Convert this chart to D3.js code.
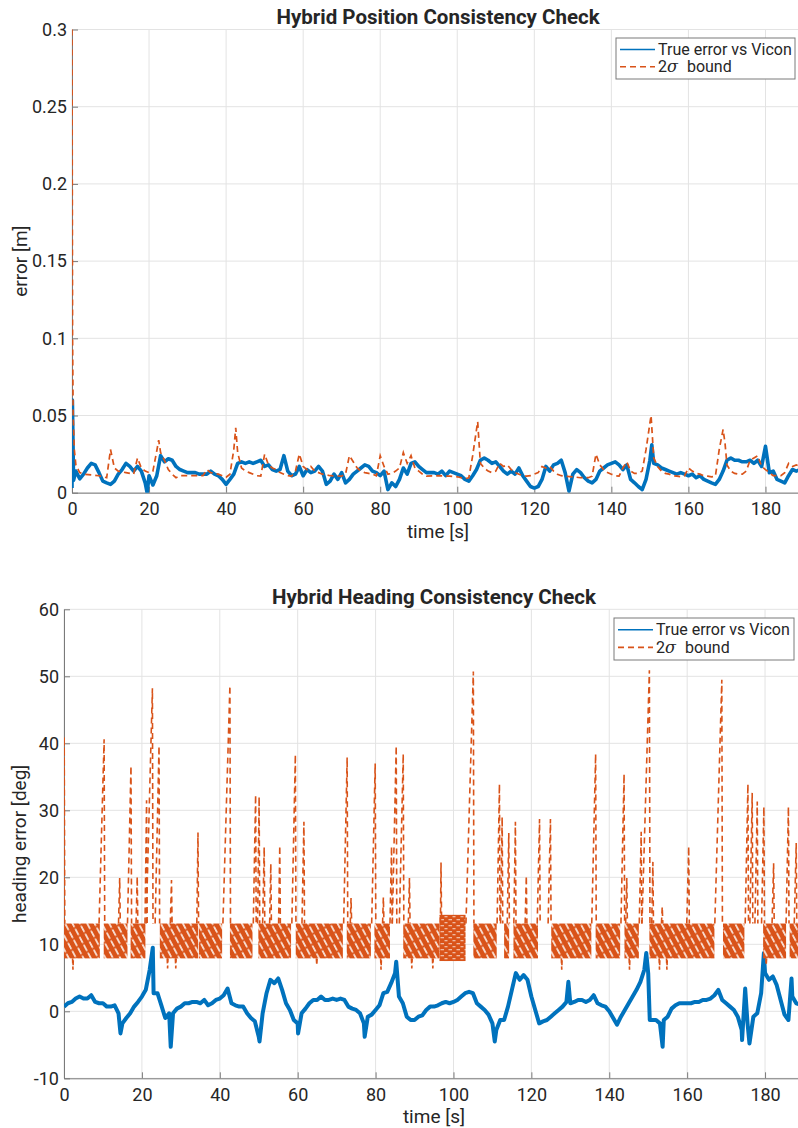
<!DOCTYPE html>
<html><head><meta charset="utf-8">
<script src="https://cdn.jsdelivr.net/npm/d3@7"></script>
<style>
body{margin:0;background:#fff}
text{font-family:Roboto,"Liberation Sans",sans-serif;fill:#262626}
</style>
</head><body><script>
// ---- tick values and labels ----
const timeTicks = [0,20,40,60,80,100,120,140,160,180];
const posTicks = [0,0.05,0.1,0.15,0.2,0.25,0.3];
const posTickLabels = ["0","0.05","0.1","0.15","0.2","0.25","0.3"];
const headTicks = [-10,0,10,20,30,40,50,60];
const headTickLabels = ["-10","0","10","20","30","40","50","60"];
const seriesNames = ["True error vs Vicon","2\u03c3 bound"];

// ---- position error [t (s), error (m)] ----
const posErr = [[0,0.003],[0.1,0.06],[0.4,0.008],[1,0.014],[2,0.009],[3,0.012],[4,0.016],[5,0.019],[6,0.018],[7,0.013],[8,0.0075],[9,0.0064],[10,0.0054],[11,0.0075],[12,0.012],[13,0.015],[14,0.019],[15,0.017],[16,0.014],[17,0.017],[18,0.014],[19,0.0064],[19.5,0.0],[20,0.011],[21,0.005],[22,0.011],[23,0.024],[24,0.020],[25,0.022],[26,0.021],[27,0.017],[28,0.015],[29,0.014],[30,0.013],[31,0.013],[32,0.013],[33,0.012],[34,0.012],[35,0.012],[36,0.014],[37,0.012],[38,0.011],[39,0.0086],[40,0.0054],[41,0.0086],[42,0.012],[43,0.019],[44,0.020],[45,0.019],[46,0.020],[47,0.019],[48,0.020],[49,0.021],[50,0.017],[51,0.018],[52,0.015],[53,0.014],[54,0.015],[55,0.024],[56,0.014],[57,0.011],[58,0.012],[59,0.017],[60,0.011],[61,0.015],[62,0.013],[63,0.014],[64,0.017],[65,0.014],[66,0.0054],[67,0.0075],[68,0.012],[69,0.0086],[70,0.013],[71,0.0064],[72,0.0086],[73,0.012],[74,0.014],[75,0.016],[76,0.018],[77,0.017],[78,0.014],[79,0.013],[80,0.011],[81,0.014],[82,0.002],[83,0.0064],[84,0.004],[85,0.0086],[86,0.016],[87,0.012],[88,0.019],[89,0.020],[90,0.017],[91,0.015],[92,0.013],[93,0.013],[94,0.013],[95,0.012],[96,0.014],[97,0.011],[98,0.014],[99,0.013],[100,0.012],[101,0.011],[102,0.0086],[103,0.0075],[104,0.011],[105,0.015],[106,0.021],[107,0.0225],[108,0.021],[109,0.019],[110,0.020],[111,0.017],[112,0.014],[113,0.012],[114,0.014],[115,0.012],[116,0.016],[117,0.011],[118,0.0075],[119,0.004],[120,0.003],[121,0.004],[122,0.0086],[123,0.017],[124,0.014],[125,0.018],[126,0.019],[127,0.021],[128,0.013],[129,0.001],[130,0.012],[131,0.015],[132,0.013],[133,0.0097],[134,0.0075],[135,0.0064],[136,0.0086],[137,0.014],[138,0.016],[139,0.018],[140,0.019],[141,0.020],[142,0.018],[143,0.015],[144,0.018],[145,0.0086],[146,0.0064],[147,0.004],[148,0.002],[149,0.0086],[150,0.021],[150.5,0.031],[151,0.019],[152,0.018],[153,0.016],[154,0.015],[155,0.014],[156,0.013],[157,0.012],[158,0.013],[159,0.012],[160,0.011],[161,0.012],[162,0.0097],[163,0.011],[164,0.0086],[165,0.0075],[166,0.0064],[167,0.0054],[168,0.0086],[169,0.014],[170,0.021],[171,0.0225],[172,0.021],[173,0.021],[174,0.020],[175,0.020],[176,0.021],[177,0.019],[178,0.021],[179,0.017],[180,0.030],[181,0.013],[182,0.014],[183,0.0086],[184,0.0075],[185,0.0064],[186,0.011],[187,0.015],[188,0.014],[189,0.015],[190,0.014]];

// ---- position 2-sigma bound [t (s), bound (m)] ----
const posBound = [[0,0.30],[0.15,0.10],[0.3,0.05],[0.6,0.028],[1,0.018],[2,0.013],[3,0.012],[5,0.0115],[7,0.011],[9,0.0097],[10,0.028],[11,0.016],[12,0.014],[14,0.013],[16,0.012],[17,0.0225],[18,0.016],[19,0.014],[20,0.013],[21,0.014],[22,0.027],[22.5,0.034],[23,0.026],[24,0.021],[25,0.015],[26,0.012],[27,0.0097],[28,0.011],[34,0.011],[35,0.015],[36,0.013],[38,0.012],[40,0.010],[41,0.012],[42,0.028],[42.5,0.042],[43,0.026],[44,0.016],[45,0.014],[46,0.013],[48,0.011],[49,0.0107],[50,0.025],[51,0.018],[52,0.016],[53,0.015],[54,0.013],[55,0.012],[56,0.011],[57,0.0107],[58,0.014],[59,0.025],[60,0.017],[61,0.015],[62,0.017],[63,0.014],[64,0.013],[65,0.012],[67,0.011],[70,0.0107],[71,0.012],[72,0.024],[73,0.020],[74,0.016],[75,0.014],[76,0.013],[77,0.0125],[78,0.012],[79,0.011],[80,0.024],[81,0.017],[82,0.012],[83,0.0125],[84,0.014],[85,0.016],[86,0.026],[87,0.019],[88,0.024],[89,0.016],[90,0.014],[91,0.012],[92,0.0107],[95,0.011],[98,0.0107],[100,0.0103],[101,0.0097],[102,0.009],[103,0.0097],[104,0.024],[105,0.041],[105.3,0.046],[106,0.019],[107,0.016],[108,0.014],[109,0.013],[110,0.014],[111,0.019],[112,0.017],[113,0.018],[114,0.015],[115,0.013],[116,0.012],[117,0.011],[118,0.0107],[119,0.011],[120,0.012],[121,0.013],[122,0.017],[123,0.016],[124,0.017],[125,0.014],[126,0.012],[127,0.011],[128,0.0107],[130,0.0103],[132,0.0097],[134,0.0097],[135,0.0107],[136,0.025],[137,0.018],[138,0.015],[139,0.013],[140,0.012],[141,0.011],[142,0.0107],[143,0.016],[144,0.020],[145,0.014],[146,0.0125],[147,0.0125],[148,0.014],[149,0.028],[150,0.045],[150.3,0.050],[151,0.0225],[152,0.017],[153,0.014],[154,0.0125],[155,0.012],[156,0.011],[157,0.0107],[158,0.0103],[159,0.011],[160,0.016],[161,0.014],[162,0.0125],[163,0.012],[164,0.011],[165,0.0107],[166,0.0103],[167,0.0107],[168,0.028],[169,0.041],[169.5,0.032],[170,0.018],[171,0.014],[172,0.0125],[173,0.012],[174,0.012],[175,0.014],[176,0.021],[177,0.0225],[178,0.024],[179,0.017],[180,0.015],[181,0.013],[182,0.011],[183,0.011],[184,0.011],[185,0.013],[186,0.019],[187,0.017],[188,0.018],[189,0.017],[190,0.016]];

// ---- heading error [t (s), error (deg)] ----
const headErr = [[0,0.7],[1,1.2],[2,1.4],[3,1.9],[4,2.2],[5,1.9],[6,1.9],[7,2.4],[8,1.4],[9,1.2],[10,1.2],[11,0.7],[12,0.7],[13,0.9],[14,-0.3],[14.5,-3.3],[15,-1.8],[16,-1.0],[17,-0.3],[18,0.7],[19,1.4],[20,2.2],[21,3.2],[22,6.2],[22.8,9.5],[23,2.7],[24,2.7],[25,0.9],[26,-1.0],[27,-0.3],[27.4,-5.3],[28,-0.3],[29,0.4],[30,0.7],[31,1.2],[32,1.2],[33,1.4],[34,1.4],[35,1.2],[36,1.7],[37,0.9],[38,1.2],[39,1.7],[40,1.9],[41,2.4],[42,3.4],[43,1.2],[44,0.9],[45,0.7],[46,0.7],[47,-0.3],[48,-1.0],[49,-1.5],[50,-3.8],[50.2,-4.5],[51,-0.3],[52,2.7],[53,4.7],[54,4.2],[55,4.9],[56,3.2],[57,1.2],[58,0.2],[59,-1.3],[60,-1.8],[60.1,-3.3],[61,-0.3],[62,0.4],[63,1.2],[64,1.7],[65,1.7],[66,2.2],[67,1.7],[68,1.7],[69,1.9],[70,1.7],[71,1.9],[72,1.7],[73,0.7],[74,0.4],[75,0.2],[76,-0.3],[77,-1.8],[77.2,-3.8],[78,-0.8],[79,-0.5],[80,0.2],[81,0.9],[82,2.7],[83,2.9],[84,4.2],[85,5.7],[85.3,7.4],[86,2.2],[87,1.2],[88,-0.8],[89,-1.3],[90,-1.3],[91,-0.8],[92,-0.6],[93,0.2],[94,0.7],[95,0.7],[96,0.9],[97,1.2],[98,1.4],[99,1.2],[100,1.4],[101,1.7],[102,2.2],[103,2.7],[104,2.9],[105,2.7],[106,1.2],[107,0.7],[108,0.2],[109,-0.5],[110,-1.8],[110.6,-4.5],[111,-2.8],[112,-1.3],[113,-1.3],[114,0.7],[115,3.2],[116,5.7],[117,4.7],[118,5.4],[119,4.7],[120,2.2],[121,0.2],[122,-1.8],[123,-1.5],[124,-1.3],[125,-0.8],[126,-0.3],[127,0.2],[128,0.7],[129,1.4],[129.5,4.4],[130,1.2],[131,1.4],[132,1.7],[133,1.7],[134,1.4],[135,1.7],[136,2.4],[137,1.2],[138,0.9],[139,0.7],[140,0.0],[141,-1.0],[142,-2.0],[143,-0.8],[144,0.2],[145,1.2],[146,2.2],[147,3.2],[148,4.4],[149,6.2],[149.5,8.7],[150,5.7],[150.4,-1.3],[151,-1.3],[152,-1.3],[153,-1.8],[153.7,-5.3],[154,-1.3],[155,-0.8],[156,0.4],[157,0.9],[158,1.2],[159,1.2],[160,1.2],[161,1.2],[162,1.4],[163,1.4],[164,1.7],[165,1.7],[166,1.9],[167,2.4],[168,3.2],[169,1.7],[170,1.2],[171,0.7],[172,0.2],[173,-0.8],[174,-2.8],[174.1,-4.3],[174.9,3.4],[175.5,-1.8],[176,-4.8],[177,-0.8],[178,-0.3],[179,2.7],[179.7,8.7],[180,5.7],[181,4.7],[182,5.2],[183,3.9],[184,1.7],[185,-0.5],[186,-1.3],[186.8,4.9],[187,2.2],[188,1.2],[189,1.0],[190,0.8]];

// ---- heading 2-sigma bound: oscillating blocks [t start, t end] ----
const headBandBlocks = [[0,9.2],[10.2,16.3],[17.1,20.9],[24.6,34.4],[34.6,40.6],[42.6,48.4],[49.9,58.3],[59.5,71.6],[72.6,78.8],[79.7,83.7],[87.1,96.4],[105.1,111.1],[113.0,114.3],[115.4,121.7],[125.1,135.4],[136.5,142.8],[143.9,147.6],[150.3,167.0],[169.2,174.7],[179.5,185.4],[186.3,190]];
const headBandLevels = [7.9,13.1];
const headRaisedBlocks = [[96.4,103.1]];
const headRaisedLevels = [7.5,14.4];
// bound excursions [t peak, peak (deg), rise time (s)]
const headSpikes = [[0.05,41,0],[10.3,40.6,1.3],[14.3,19.9,0.3],[17.2,36.6,0.9],[18.8,20.1,0.3],[21.2,31.5,0.4],[22.7,48.2,1.6],[24.4,39.6,1.0],[27.6,19.6,0.3],[34.4,26.7,0.3],[42.6,48.6,1.8],[49.2,32.3,0.6],[50.1,32.0,0.4],[51.4,24.5,0.4],[53.1,22.0,0.3],[55.4,24.7,0.3],[59.4,38.3,0.9],[61.6,28.3,0.5],[72.7,37.9,0.9],[73.7,16.9,0.2],[79.9,37.0,0.9],[82.0,17.0,0.2],[84.1,24.6,0.4],[85.3,39.6,1.0],[87.1,38.4,1.0],[88.7,19.9,0.3],[96.8,22.2,0.15],[105.1,50.7,1.9],[111.8,33.9,0.6],[112.5,29.0,0.4],[114.2,26.6,0.4],[115.9,28.3,0.4],[118.7,20.2,0.3],[122.1,28.7,0.6],[124.9,28.7,0.6],[136.5,38.4,1.0],[143.8,35.4,0.8],[144.5,19.9,0.3],[148.2,26.8,0.5],[150.3,50.9,1.9],[151.2,22.3,0.3],[153.6,15.6,0.2],[160.4,24.6,0.5],[168.9,49.5,1.8],[175.6,33.9,0.7],[176.7,32.6,0.6],[178.0,31.3,0.6],[179.7,30.5,0.6],[182.2,22.1,0.4],[186.0,30.5,0.6],[188.0,25.1,0.5]];
// bound dips below the block [t, value (deg)]
const headDips = [[2.3,6.2],[26.6,6.4],[28.7,6.4],[64.9,6.9],[81.4,6.2],[89.3,6.4],[94.7,6.4],[127.8,6.2],[145.2,6.2],[152.9,6.2],[154.8,6.2],[180.3,6.9]];

const BLUE = "#0072BD", ORANGE = "#D95319", GRID = "#e3e3e3", AXIS = "#7a7a7a";
const T_MAX = 190;

const svg = d3.select("body").append("svg").attr("width",798).attr("height",1128);
svg.append("rect").attr("width",798).attr("height",1128).attr("fill","#fff");
const defs = svg.append("defs");

// diagonal hatch for the fast oscillating bound
const hatch = defs.append("pattern").attr("id","hatch").attr("patternUnits","userSpaceOnUse")
  .attr("width",6.5).attr("height",9).attr("patternTransform","rotate(-28)");
hatch.append("rect").attr("width",6.5).attr("height",9).attr("fill",ORANGE);
hatch.append("rect").attr("x",0).attr("y",0.5).attr("width",1.8).attr("height",7).attr("fill","#fff").attr("opacity",0.8);
// finer texture for the raised section
const wave = defs.append("pattern").attr("id","wave").attr("patternUnits","userSpaceOnUse")
  .attr("width",8).attr("height",6);
wave.append("rect").attr("width",8).attr("height",6).attr("fill",ORANGE);
wave.append("rect").attr("x",0.5).attr("y",1).attr("width",3.5).attr("height",1.3).attr("fill","#fff").attr("opacity",0.6);
wave.append("rect").attr("x",4.5).attr("y",4).attr("width",3).attr("height",1.3).attr("fill","#fff").attr("opacity",0.6);

function makeAxes(cfg){
  const g = svg.append("g");
  const x = d3.scaleLinear().domain([0,T_MAX]).range([cfg.left,cfg.right]);
  const y = d3.scaleLinear().domain(cfg.yDomain).range([cfg.bottom,cfg.top]);
  // grid
  g.append("g").selectAll("line").data(timeTicks).join("line")
    .attr("x1",d=>x(d)).attr("x2",d=>x(d)).attr("y1",cfg.top).attr("y2",cfg.bottom)
    .attr("stroke",GRID).attr("stroke-width",1);
  g.append("g").selectAll("line").data(cfg.yTicks).join("line")
    .attr("x1",cfg.left).attr("x2",cfg.right).attr("y1",d=>y(d)).attr("y2",d=>y(d))
    .attr("stroke",GRID).attr("stroke-width",1);
  // axes
  const xa = g.append("g").attr("transform",`translate(0,${cfg.bottom})`)
    .call(d3.axisBottom(x).tickValues(timeTicks).tickSize(-6).tickSizeOuter(0).tickPadding(10));
  const ya = g.append("g").attr("transform",`translate(${cfg.left},0)`)
    .call(d3.axisLeft(y).tickValues(cfg.yTicks).tickFormat((d,i)=>cfg.yLabels[i]).tickSize(-6).tickSizeOuter(0).tickPadding(5));
  [xa,ya].forEach(a=>{
    a.attr("font-family",null).attr("font-size",null);
    a.selectAll("path,line").attr("stroke",AXIS);
    a.selectAll("text").attr("fill","#262626").style("font-size","18px");
  });
  // clip
  const cid = "clip"+cfg.id;
  defs.append("clipPath").attr("id",cid).append("rect")
    .attr("x",cfg.left).attr("y",cfg.top-1).attr("width",cfg.right-cfg.left).attr("height",cfg.bottom-cfg.top+1);
  const plot = svg.append("g").attr("clip-path",`url(#${cid})`);
  // labels
  svg.append("text").attr("x",cfg.titleX).attr("y",cfg.titleY).attr("text-anchor","middle")
    .style("font-size","20.5px").style("font-weight","bold").text(cfg.title);
  svg.append("text").attr("x",cfg.titleX).attr("y",cfg.xlabelY).attr("text-anchor","middle")
    .style("font-size","19px").text("time [s]");
  svg.append("text").attr("transform",`translate(${cfg.ylabelX},${(cfg.top+cfg.bottom)/2}) rotate(-90)`)
    .attr("text-anchor","middle").style("font-size","19px").text(cfg.ylabel);
  return {x,y,plot};
}

function legend(lx,ly,lw,lh){
  const g = svg.append("g");
  g.append("rect").attr("x",lx).attr("y",ly).attr("width",lw).attr("height",lh)
    .attr("fill","#fff").attr("stroke",AXIS).attr("stroke-width",1);
  const rows = [ly+lh*0.28, ly+lh*0.7];
  g.append("line").attr("x1",lx+4).attr("x2",lx+39).attr("y1",rows[0]).attr("y2",rows[0])
    .attr("stroke",BLUE).attr("stroke-width",1.6);
  g.append("line").attr("x1",lx+4).attr("x2",lx+39).attr("y1",rows[1]).attr("y2",rows[1])
    .attr("stroke",ORANGE).attr("stroke-width",1.6).attr("stroke-dasharray","6,4");
  g.append("text").attr("x",lx+42).attr("y",rows[0]+5.5).style("font-size","16px").text(seriesNames[0]);
  const t2 = g.append("text").attr("x",lx+42).attr("y",rows[1]+5.5).style("font-size","16px");
  const parts = seriesNames[1].split(" ");
  t2.append("tspan").text(parts[0].slice(0,1));
  t2.append("tspan").style("font-style","italic").style("font-family","'DejaVu Serif',serif").text(parts[0].slice(1));
  t2.append("tspan").attr("dx",9).text(parts[1]);
}

// ---------- Position panel ----------
const P = makeAxes({id:"pos",left:72,right:804,top:29.5,bottom:492.7,yDomain:[0,0.3],
  yTicks:posTicks,yLabels:posTickLabels,title:"Hybrid Position Consistency Check",
  titleX:438,titleY:24,xlabelY:538,ylabel:"error [m]",ylabelX:27});
const lineP = d3.line().x(d=>P.x(d[0])).y(d=>P.y(d[1]));
P.plot.append("path").datum(posErr).attr("d",lineP).attr("fill","none")
  .attr("stroke",BLUE).attr("stroke-width",3.6).attr("stroke-linejoin","round");
P.plot.append("path").datum(posBound).attr("d",lineP).attr("fill","none")
  .attr("stroke",ORANGE).attr("stroke-width",1.7).attr("stroke-dasharray","6,4");
legend(616,38,179,41);

// ---------- Heading panel ----------
const Hd = makeAxes({id:"head",left:64,right:804,top:609.3,bottom:1078.3,yDomain:[-10,60],
  yTicks:headTicks,yLabels:headTickLabels,title:"Hybrid Heading Consistency Check",
  titleX:434,titleY:604,xlabelY:1123,ylabel:"heading error [deg]",ylabelX:26});
const lineH = d3.line().x(d=>Hd.x(d[0])).y(d=>Hd.y(d[1]));
Hd.plot.append("path").datum(headErr).attr("d",lineH).attr("fill","none")
  .attr("stroke",BLUE).attr("stroke-width",4).attr("stroke-linejoin","round");
// oscillating bound blocks
Hd.plot.append("g").selectAll("rect").data(headBandBlocks).join("rect")
  .attr("x",d=>Hd.x(d[0])).attr("width",d=>Hd.x(d[1])-Hd.x(d[0]))
  .attr("y",Hd.y(headBandLevels[1])).attr("height",Hd.y(headBandLevels[0])-Hd.y(headBandLevels[1]))
  .attr("fill","url(#hatch)");
Hd.plot.append("g").selectAll("rect").data(headRaisedBlocks).join("rect")
  .attr("x",d=>Hd.x(d[0])).attr("width",d=>Hd.x(d[1])-Hd.x(d[0]))
  .attr("y",Hd.y(headRaisedLevels[1])).attr("height",Hd.y(headRaisedLevels[0])-Hd.y(headRaisedLevels[1]))
  .attr("fill","url(#wave)");
// excursions of the bound above and below the block
Hd.plot.append("g").selectAll("path").data(headSpikes).join("path")
  .attr("d",d=>lineH([[d[0]-d[2],headBandLevels[1]],[d[0],d[1]],[d[0]+0.15,headBandLevels[1]]]))
  .attr("fill","none").attr("stroke",ORANGE).attr("stroke-width",1.6).attr("stroke-dasharray","6,4");
Hd.plot.append("g").selectAll("path").data(headDips).join("path")
  .attr("d",d=>lineH([[d[0]-0.1,headBandLevels[0]],[d[0],d[1]],[d[0]+0.1,headBandLevels[0]]]))
  .attr("fill","none").attr("stroke",ORANGE).attr("stroke-width",1.6).attr("stroke-dasharray","5,3");
legend(614,618,180,42);
</script></body></html>
